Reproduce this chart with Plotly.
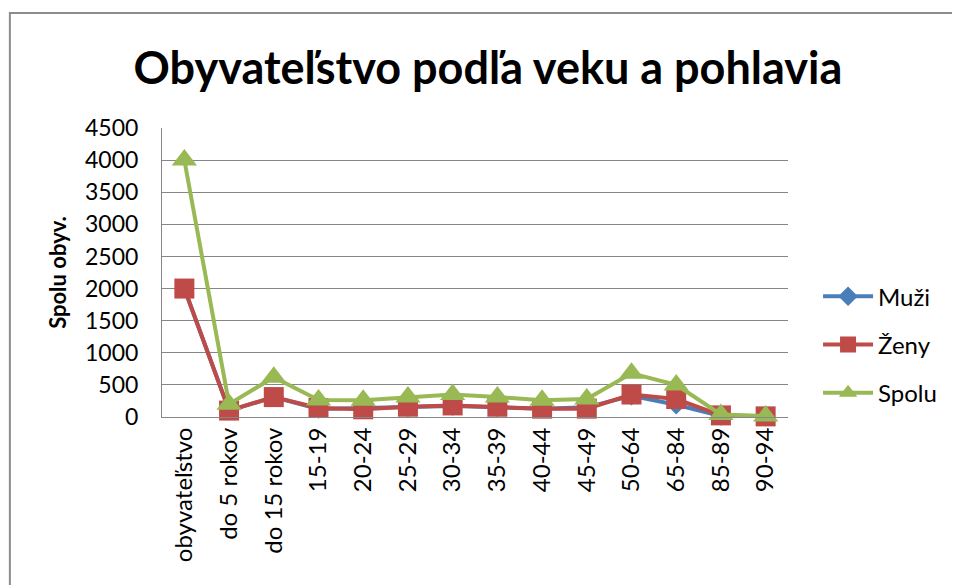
import plotly.graph_objects as go

categories = ["obyvateľstvo", "do 5 rokov", "do 15 rokov", "15-19", "20-24", "25-29",
              "30-34", "35-39", "40-44", "45-49", "50-64", "65-84", "85-89", "90-94"]
muzi = [2000, 100, 310, 125, 140, 150, 170, 150, 130, 150, 330, 190, 15, 5]
zeny = [2000, 100, 310, 140, 120, 160, 180, 160, 130, 130, 350, 280, 25, 10]
spolu = [4000, 200, 620, 265, 260, 310, 350, 310, 260, 280, 680, 500, 40, 15]
y_ticks = list(range(0, 4501, 500))

FONT = "Lato, 'Open Sans', sans-serif"

fig = go.Figure()
fig.add_trace(go.Scatter(x=categories, y=muzi, name="Muži", mode="lines+markers",
                         line=dict(color="#4A7EBB", width=4), legendgroup="a", cliponaxis=False,
                         marker=dict(symbol="diamond", size=15, color="#4A7EBB")))
fig.add_trace(go.Scatter(x=categories, y=zeny, name="Ženy", mode="lines+markers",
                         line=dict(color="#BE4B48", width=4), legendgroup="b", cliponaxis=False,
                         marker=dict(symbol="square", size=20, color="#BE4B48")))
fig.add_trace(go.Scatter(x=categories, y=spolu, name="Spolu", mode="lines+markers",
                         line=dict(color="#98B954", width=4), legendgroup="c", cliponaxis=False,
                         marker=dict(symbol="triangle-up", size=22, color="#98B954")))

fig.update_layout(
    width=960, height=585,
    margin=dict(l=154, r=180, t=120, b=176, autoexpand=False),
    paper_bgcolor="white", plot_bgcolor="white",
    font=dict(family=FONT, size=23, color="black"),
    title=dict(text="<b>Obyvateľstvo podľa veku a pohlavia</b>", x=0.5, xanchor="center",
               y=0.897, yanchor="middle", font=dict(family=FONT, size=45, color="black")),
    showlegend=True,
    legend=dict(x=1.048, y=0.25, xanchor="left", yanchor="middle", tracegroupgap=14,
                font=dict(size=24), bgcolor="rgba(0,0,0,0)", itemwidth=50),
    xaxis=dict(type="category", range=[-0.5, len(categories) - 0.5], tickangle=-90,
               showgrid=False, showline=True, automargin=False, ticks="",
               linecolor="#868686", linewidth=1, tickfont=dict(size=24)),
    yaxis=dict(range=[0, 4500], tickvals=y_ticks, showgrid=True, gridcolor="#868686",
               automargin=False, ticklabelstandoff=18, ticks="",
               gridwidth=1, showline=True, linecolor="#868686", linewidth=1,
               zeroline=False, tickfont=dict(size=23),
               title=dict(text="<b>Spolu obyv.</b>", font=dict(size=22), standoff=12)),
    shapes=[dict(type="rect", xref="paper", yref="paper", x0=-0.243, x1=1.4,
                 y0=-0.7, y1=1.398, line=dict(color="#8C8C8C", width=2),
                 fillcolor="rgba(0,0,0,0)", layer="below")],
)

fig.write_html("out.html")
